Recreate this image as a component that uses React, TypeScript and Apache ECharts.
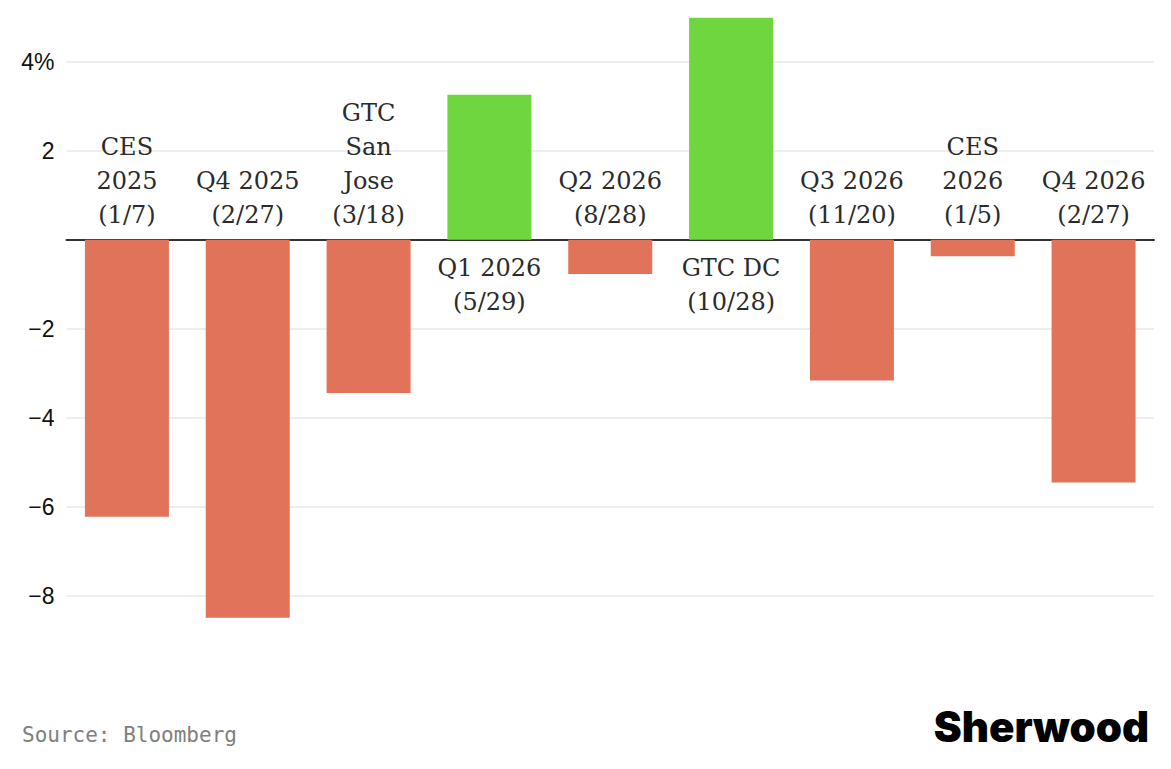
import React, { useEffect, useRef } from "react";
import * as echarts from "echarts";

const categories = [
  "CES\n2025\n(1/7)",
  "Q4 2025\n(2/27)",
  "GTC\nSan\nJose\n(3/18)",
  "Q1 2026\n(5/29)",
  "Q2 2026\n(8/28)",
  "GTC DC\n(10/28)",
  "Q3 2026\n(11/20)",
  "CES\n2026\n(1/5)",
  "Q4 2026\n(2/27)",
];

const changes = [-6.22, -8.49, -3.44, 3.26, -0.77, 4.99, -3.16, -0.37, -5.45];

const yMin = -10;
const yMax = 5;
const yInterval = 2;

const RED = "#e0735a";
const GREEN = "#6fd640";
const GRID = "#e8e8e8";

export default function App() {
  const ref = useRef<HTMLDivElement>(null);

  useEffect(() => {
    document.body.style.margin = "0";
    if (!ref.current) return;
    const chart = echarts.init(ref.current, undefined, { renderer: "svg" });

    const splitColors = ["rgba(0,0,0,0)", GRID, GRID, GRID, GRID, GRID, GRID, GRID, "rgba(0,0,0,0)"];

    chart.setOption({
      animation: false,
      backgroundColor: "#ffffff",
      grid: { left: 66.5, right: 17, top: 17.2, bottom: 84, containLabel: false },
      xAxis: {
        type: "category",
        data: categories,
        axisLine: { onZero: true, lineStyle: { color: "#333333", width: 2 } },
        axisTick: { show: false },
        axisLabel: { show: false },
        splitLine: { show: false },
      },
      yAxis: {
        type: "value",
        min: yMin,
        max: yMax,
        interval: yInterval,
        axisLine: { show: false },
        axisTick: { show: false },
        splitLine: { show: true, lineStyle: { color: splitColors, width: 1.5 } },
        axisLabel: {
          margin: 12,
          color: "#111111",
          fontFamily: "'Liberation Sans', Arial, sans-serif",
          fontSize: 23,
          formatter: (v: number) => {
            if (v === yMin || v === yMax || v === 0) return "";
            if (v === 4) return "4%";
            return v < 0 ? "\u2212" + Math.abs(v) : String(v);
          },
        },
      },
      series: [
        {
          type: "bar",
          barWidth: 84,
          data: changes.map((v) => ({
            value: v,
            itemStyle: { color: v < 0 ? RED : GREEN },
            label: { position: v < 0 ? "top" : "bottom", distance: v < 0 ? 8 : 11 },
          })),
          label: {
            show: true,
            formatter: "{b}",
            color: "#2b2b2b",
            fontFamily: "'DejaVu Serif', serif",
            fontSize: 24,
            lineHeight: 34,
            align: "center",
          },
        },
      ],
      graphic: [
        {
          type: "text",
          left: 22,
          top: 724,
          style: {
            text: "Source: Bloomberg",
            fill: "#808080",
            font: "21px 'DejaVu Sans Mono', monospace",
          },
        },
        {
          type: "text",
          right: 22,
          top: 705,
          style: {
            text: "Sherwood",
            fill: "#000000",
            font: "900 42px Inter, 'Liberation Sans', sans-serif",
          },
        },
      ],
    });

    return () => chart.dispose();
  }, []);

  return <div ref={ref} style={{ width: 1171, height: 769 }} />;
}
